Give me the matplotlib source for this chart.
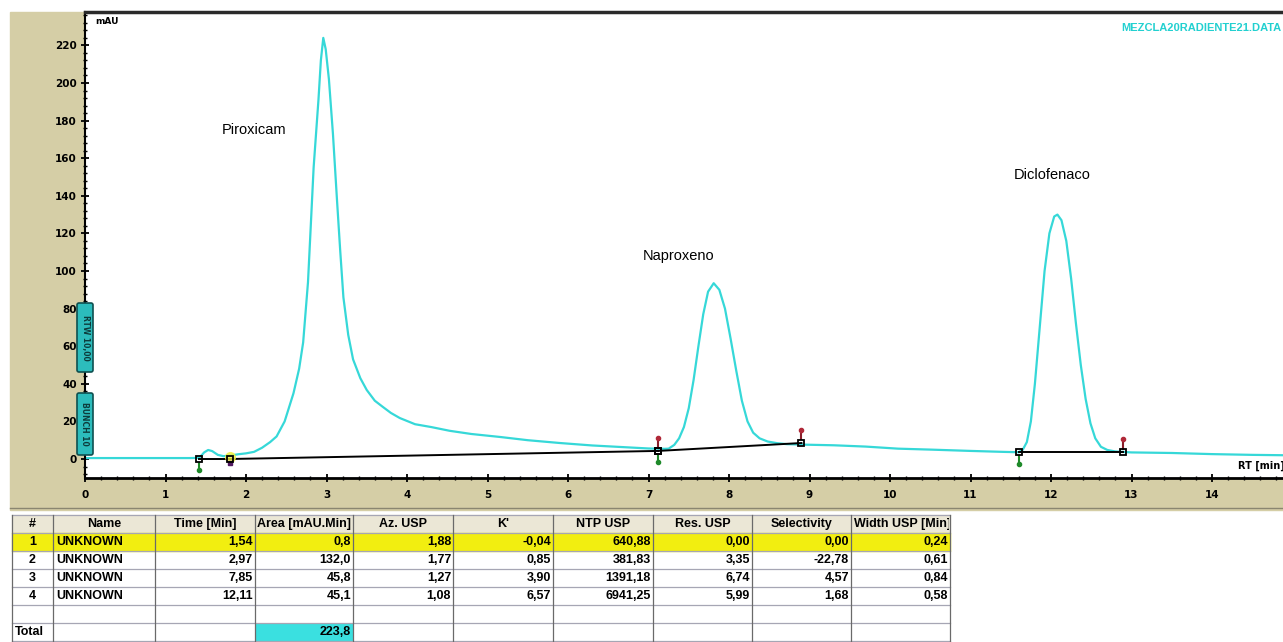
import matplotlib
matplotlib.use("Agg")
import matplotlib.pyplot as plt
from matplotlib.patches import Rectangle, FancyBboxPatch
from matplotlib.ticker import MultipleLocator
from matplotlib import font_manager

# =========================================================
# Chromatogram
# =========================================================
rt_min = [0.00, 0.50, 1.00, 1.30, 1.42, 1.48, 1.53, 1.58, 1.65, 1.72, 1.80, 1.90,
          2.00, 2.10, 2.20, 2.30, 2.38, 2.48, 2.59, 2.66, 2.71, 2.77, 2.80, 2.84,
          2.90, 2.93, 2.96, 2.99, 3.03, 3.08, 3.13, 3.17, 3.21, 3.27, 3.33, 3.42, 3.50,
          3.60, 3.70, 3.80, 3.91, 4.10, 4.30, 4.53, 4.80, 5.16, 5.50, 5.90, 6.30,
          6.65, 7.00, 7.20, 7.25, 7.32, 7.38, 7.44, 7.50, 7.56, 7.62, 7.68, 7.74,
          7.81, 7.88, 7.95, 8.02, 8.09, 8.16, 8.23, 8.30, 8.38, 8.48, 8.60, 8.72,
          8.97, 9.30, 9.70, 10.10, 10.50, 11.00, 11.40, 11.60, 11.65, 11.70, 11.75,
          11.80, 11.86, 11.92, 11.98, 12.04, 12.08, 12.13, 12.19, 12.25, 12.31, 12.37,
          12.43, 12.49, 12.55, 12.62, 12.70, 12.80, 13.00, 13.50, 14.00, 14.50, 14.90]
signal_mau = [0.5, 0.5, 0.5, 0.5, 0.6, 3.5, 4.8, 4.2, 2.2, 1.5, 1.8, 2.5,
              3.0, 3.8, 6.0, 9.0, 12.0, 20.0, 35.0, 48.0, 62.0, 94.0, 120.0, 155.0,
              191.0, 212.0, 224.0, 218.0, 202.0, 173.0, 138.0, 111.0, 86.0, 66.0, 53.0, 43.0, 36.7,
              31.0, 27.7, 24.5, 21.8, 18.5, 17.0, 15.0, 13.3, 11.7, 10.0, 8.5, 7.2,
              6.4, 5.6, 5.4, 5.5, 7.5, 11.0, 17.0, 27.0, 42.0, 60.0, 77.0, 89.0,
              93.5, 90.0, 80.0, 64.0, 47.0, 31.0, 20.0, 14.0, 11.0, 9.3, 8.4, 7.9,
              7.6, 7.3, 6.6, 5.5, 5.0, 4.3, 3.8, 3.6, 5.0, 9.0, 20.0,
              40.0, 70.0, 100.0, 120.0, 129.0, 130.0, 127.0, 116.0, 96.0, 72.0, 50.0,
              32.0, 19.0, 11.0, 6.5, 4.8, 4.0, 3.5, 3.2, 2.6, 2.2, 2.0]

peak_names = ["Piroxicam", "Naproxeno", "Diclofenaco"]
label_rt = [1.70, 6.93, 11.54]
label_mau = [175, 108, 151]

# integration events: start / end time and baseline level
evt_start = [1.42, 1.80, 7.12, 11.60]
evt_end = [1.80, 7.12, 8.90, 12.90]
base_start = [0.0, 0.0, 4.3, 3.5]
base_end = [0.0, 4.3, 8.5, 3.5]

# =========================================================
# Results table
# =========================================================
col_headers = ["#", "Name", "Time [Min]", "Area [mAU.Min]", "Az. USP", "K'",
               "NTP USP", "Res. USP", "Selectivity", "Width USP [Min]"]
tbl_num = ["1", "2", "3", "4"]
tbl_name = ["UNKNOWN", "UNKNOWN", "UNKNOWN", "UNKNOWN"]
tbl_time = ["1,54", "2,97", "7,85", "12,11"]
tbl_area = ["0,8", "132,0", "45,8", "45,1"]
tbl_asym = ["1,88", "1,77", "1,27", "1,08"]
tbl_k = ["-0,04", "0,85", "3,90", "6,57"]
tbl_ntp = ["640,88", "381,83", "1391,18", "6941,25"]
tbl_res = ["0,00", "3,35", "6,74", "5,99"]
tbl_sel = ["0,00", "-22,78", "4,57", "1,68"]
tbl_width = ["0,24", "0,61", "0,84", "0,58"]
total_area = "223,8"

# =========================================================
# Style
# =========================================================
W, H = 1283, 642
tan = "#d5cea6"
cyan = "#36d8d8"
names = {f.name for f in font_manager.fontManager.ttflist}
tbl_font = "Liberation Sans Narrow" if "Liberation Sans Narrow" in names else "Liberation Sans"

x0_px, y0_px = 85, 459          # pixel of (0 min, 0 mAU)
px_per_min, px_per_mau = 80.5, 1.88
ax_top_px, ax_bot_px = 12, 478

fig = plt.figure(figsize=(W / 100, H / 100), dpi=100)
fig.patch.set_facecolor("white")

# background layer in pixel coordinates
bg = fig.add_axes([0, 0, 1, 1], zorder=0)
bg.set_xlim(0, W)
bg.set_ylim(H, 0)
bg.axis("off")
bg.add_patch(Rectangle((10, ax_top_px), W - 10, 498, color=tan, zorder=0))
bg.plot([10, W], [508, 508], color="#8a8670", lw=1.0)

ax = fig.add_axes([x0_px / W, 1 - ax_bot_px / H, 1 - x0_px / W,
                   (ax_bot_px - ax_top_px) / H], zorder=1)
ax.set_facecolor("white")
ax.set_xlim(0, (W - x0_px) / px_per_min)
ax.set_ylim(-(ax_bot_px - y0_px) / px_per_mau, (y0_px - ax_top_px) / px_per_mau)

ax.plot(rt_min, signal_mau, color=cyan, lw=1.6, solid_joinstyle="round", zorder=2)

# integration baselines and event markers
for i in range(len(evt_start)):
    ax.plot([evt_start[i], evt_end[i]], [base_start[i], base_end[i]],
            color="black", lw=1.4, zorder=3)
for i in range(len(evt_start)):
    for t, b in ((evt_start[i], base_start[i]), (evt_end[i], base_end[i])):
        if i == 1 and t == evt_start[i]:
            continue
        ax.plot(t, b, marker="s", ms=5, mfc="none", mec="black", mew=1.3, zorder=5)
for i in (0, 2, 3):
    t, b = evt_start[i], base_start[i]
    ax.plot([t, t], [b - 2, b - 6], color="#1e8a2a", lw=1.5, zorder=4)
    ax.plot(t, b - 6, "o", ms=3, color="#1e8a2a", zorder=4)
for i in (1, 2, 3):
    t, b = evt_end[i], base_end[i]
    ax.plot([t, t], [b + 2, b + 7], color="#8a1e2a", lw=1.5, zorder=4)
    ax.plot(t, b + 7, "o", ms=3, color="#b02838", zorder=4)
ax.plot(evt_end[0], base_end[0] + 1, "o", ms=7, color="#f0f040", alpha=0.8, zorder=4)
ax.plot(evt_end[0], base_end[0] - 2, "s", ms=3.5, color="#501860", zorder=4)

for name, x, y in zip(peak_names, label_rt, label_mau):
    ax.text(x, y, name, ha="left", va="center", fontsize=10.5,
            family="Liberation Sans", color="black", zorder=6)

# axes look
ax.set_xticks(range(0, 15))
ax.xaxis.set_minor_locator(MultipleLocator(0.2))
ax.set_yticks(range(0, 221, 20))
ax.yaxis.set_minor_locator(MultipleLocator(4))
ax.tick_params(axis="x", which="major", direction="inout", length=6, width=1.3,
               labelsize=7.5, pad=6)
ax.tick_params(axis="x", which="minor", direction="inout", length=3, width=1.0)
ax.tick_params(axis="y", which="major", direction="inout", length=6, width=1.3,
               labelsize=7.5, pad=3)
ax.tick_params(axis="y", which="minor", direction="inout", length=2.5, width=1.0)
for lab in ax.get_xticklabels() + ax.get_yticklabels():
    lab.set_fontweight("bold")
    lab.set_family("DejaVu Sans")
ax.spines["right"].set_visible(False)
ax.spines["left"].set_linewidth(1.5)
ax.spines["bottom"].set_linewidth(2.0)
ax.spines["top"].set_linewidth(2.5)
ax.spines["top"].set_color("#2a2a2a")
ax.text(15, -(494 - y0_px) / px_per_mau, "15", ha="center", va="center",
        fontsize=7.5, fontweight="bold", clip_on=False)

# texts on the plot
ax.text(95, 22, "mAU", transform=bg.transData, fontsize=6.5, fontweight="bold",
        ha="left", va="center", zorder=6)
ax.text(1238, 466, "RT [min]", transform=bg.transData, fontsize=7, fontweight="bold",
        ha="left", va="center", zorder=6, clip_on=False)
ax.text(1281, 28, "MEZCLA20RADIENTE21.DATA", transform=bg.transData, fontsize=8,
        fontweight="bold", color="#22d0d0", ha="right", va="center", zorder=6,
        family=tbl_font)

# event boxes on the y axis
for (yt, yb, txt) in ((303, 372, "RTW 10,00"), (393, 455, "BUNCH 10")):
    box = FancyBboxPatch((77, yt), 16, yb - yt, boxstyle="round,pad=0,rounding_size=2",
                         transform=bg.transData, fc="#2cbcbc", ec="#0f5050", lw=1.2,
                         clip_on=False, zorder=7)
    ax.add_artist(box)
    ax.text(85, (yt + yb) / 2, txt, transform=bg.transData, rotation=-90,
            fontsize=5.5, fontweight="bold", color="#0d3c3c", ha="center",
            va="center", clip_on=False, zorder=8)

# =========================================================
# Table
# =========================================================
col_edges = [12, 53, 155, 255, 353, 453, 553, 653, 752, 851, 950]
row_top, row_h, n_rows = 515, 18, 7
data_cols = [tbl_num, tbl_name, tbl_time, tbl_area, tbl_asym, tbl_k,
             tbl_ntp, tbl_res, tbl_sel, tbl_width]

bg.add_patch(Rectangle((col_edges[0], row_top), col_edges[-1] - col_edges[0], row_h,
                       color="#ebe7d6", zorder=1))
bg.add_patch(Rectangle((col_edges[0], row_top + row_h), col_edges[-1] - col_edges[0],
                       row_h, color="#f2ee10", zorder=1))
bg.add_patch(Rectangle((col_edges[3] + 1, row_top + 6 * row_h + 1),
                       col_edges[4] - col_edges[3] - 2, row_h, color="#3ae0e0", zorder=1))

for r in range(n_rows + 1):
    y = row_top + r * row_h
    bg.plot([col_edges[0], col_edges[-1]], [y, y], color="#a6a6b4", lw=0.9, zorder=2)
for x in col_edges:
    bg.plot([x, x], [row_top, H], color="#6a6a6a", lw=0.9, zorder=2)

tkw = dict(fontsize=9, fontweight="bold", family=tbl_font, va="center", zorder=3)
for c, head in enumerate(col_headers):
    yc = row_top + row_h / 2
    if c == len(col_headers) - 1:
        t = bg.text(col_edges[c] + 3, yc, head, ha="left", clip_on=True, **tkw)
        t.set_clip_path(Rectangle((col_edges[c], row_top), col_edges[c + 1] - col_edges[c] - 1,
                                  row_h, transform=bg.transData))
    else:
        bg.text((col_edges[c] + col_edges[c + 1]) / 2, yc, head, ha="center", **tkw)

for r in range(len(tbl_num)):
    yc = row_top + (r + 1.5) * row_h
    for c, col in enumerate(data_cols):
        if c == 0:
            bg.text((col_edges[0] + col_edges[1]) / 2, yc, col[r], ha="center", **tkw)
        elif c == 1:
            bg.text(col_edges[1] + 3, yc, col[r], ha="left", **tkw)
        else:
            bg.text(col_edges[c + 1] - 2, yc, col[r], ha="right", **tkw)

yc = row_top + 6.5 * row_h
bg.text(col_edges[0] + 3, yc, "Total", ha="left", **tkw)
bg.text(col_edges[4] - 2, yc, total_area, ha="right", **tkw)

fig.savefig("out.png", dpi=100, facecolor="white")
